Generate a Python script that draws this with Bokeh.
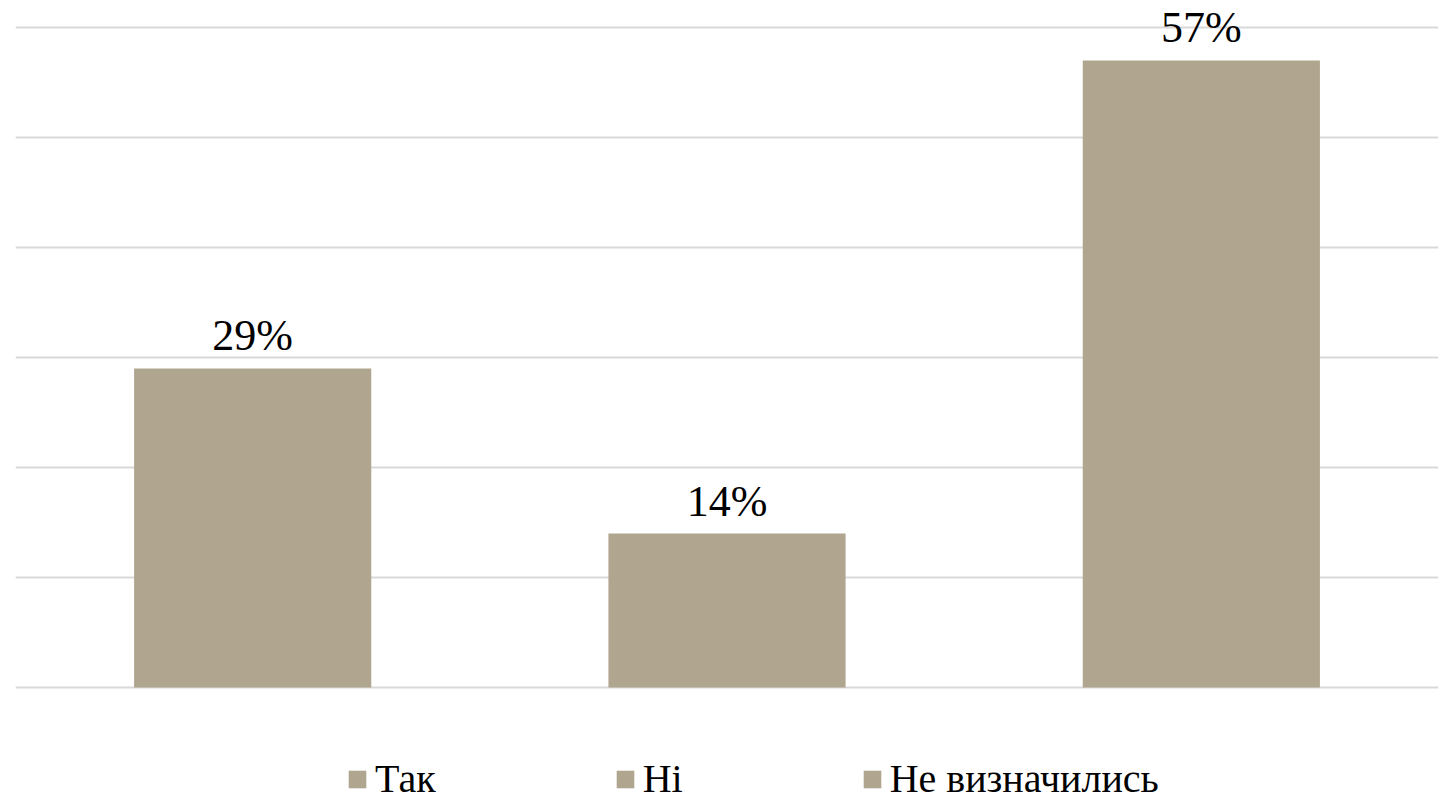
from bokeh.plotting import figure
from bokeh.models import ColumnDataSource, LabelSet, Legend, LegendItem, Range1d, FactorRange, FixedTicker
from bokeh.embed import file_html
from bokeh.resources import INLINE

categories = ["Так", "Ні", "Не визначились"]
values = [29, 14, 57]
labels = ["29%", "14%", "57%"]

color = "#B0A58E"
font = "Liberation Serif"

src = ColumnDataSource(dict(cat=categories, val=values, lab=labels))

p = figure(x_range=FactorRange(*categories), y_range=Range1d(-10.45, 62.45),
           width=1440, height=802, output_backend="svg", toolbar_location=None,
           min_border_left=15, min_border_right=2, min_border_top=0, min_border_bottom=0)
p.outline_line_color = None
p.background_fill_color = "white"

r = p.vbar(x="cat", top="val", bottom=0, width=0.5, source=src, fill_color=color, line_color=None)

p.xaxis.visible = False
p.yaxis.visible = False
p.xgrid.grid_line_color = None
p.ygrid.ticker = FixedTicker(ticks=[0, 10, 20, 30, 40, 50, 60])
p.ygrid.grid_line_color = "#D9D9D9"
p.ygrid.grid_line_width = 2

lbl = LabelSet(x="cat", y="val", text="lab", source=src, text_align="center",
               text_baseline="alphabetic", y_offset=18, text_font=font,
               text_font_size="44px", text_color="#000000")
p.add_layout(lbl)

items = [LegendItem(label=c, renderers=[r], index=i) for i, c in enumerate(categories)]
legend = Legend(items=items, orientation="horizontal", location=(331, 0),
                label_text_font=font, label_text_font_size="40px", label_text_color="#000000",
                glyph_width=22, glyph_height=22, label_standoff=7, spacing=178,
                padding=0, margin=0, border_line_color=None, background_fill_alpha=0)
p.add_layout(legend, "center")

open("out.html", "w").write(file_html(p, INLINE))
